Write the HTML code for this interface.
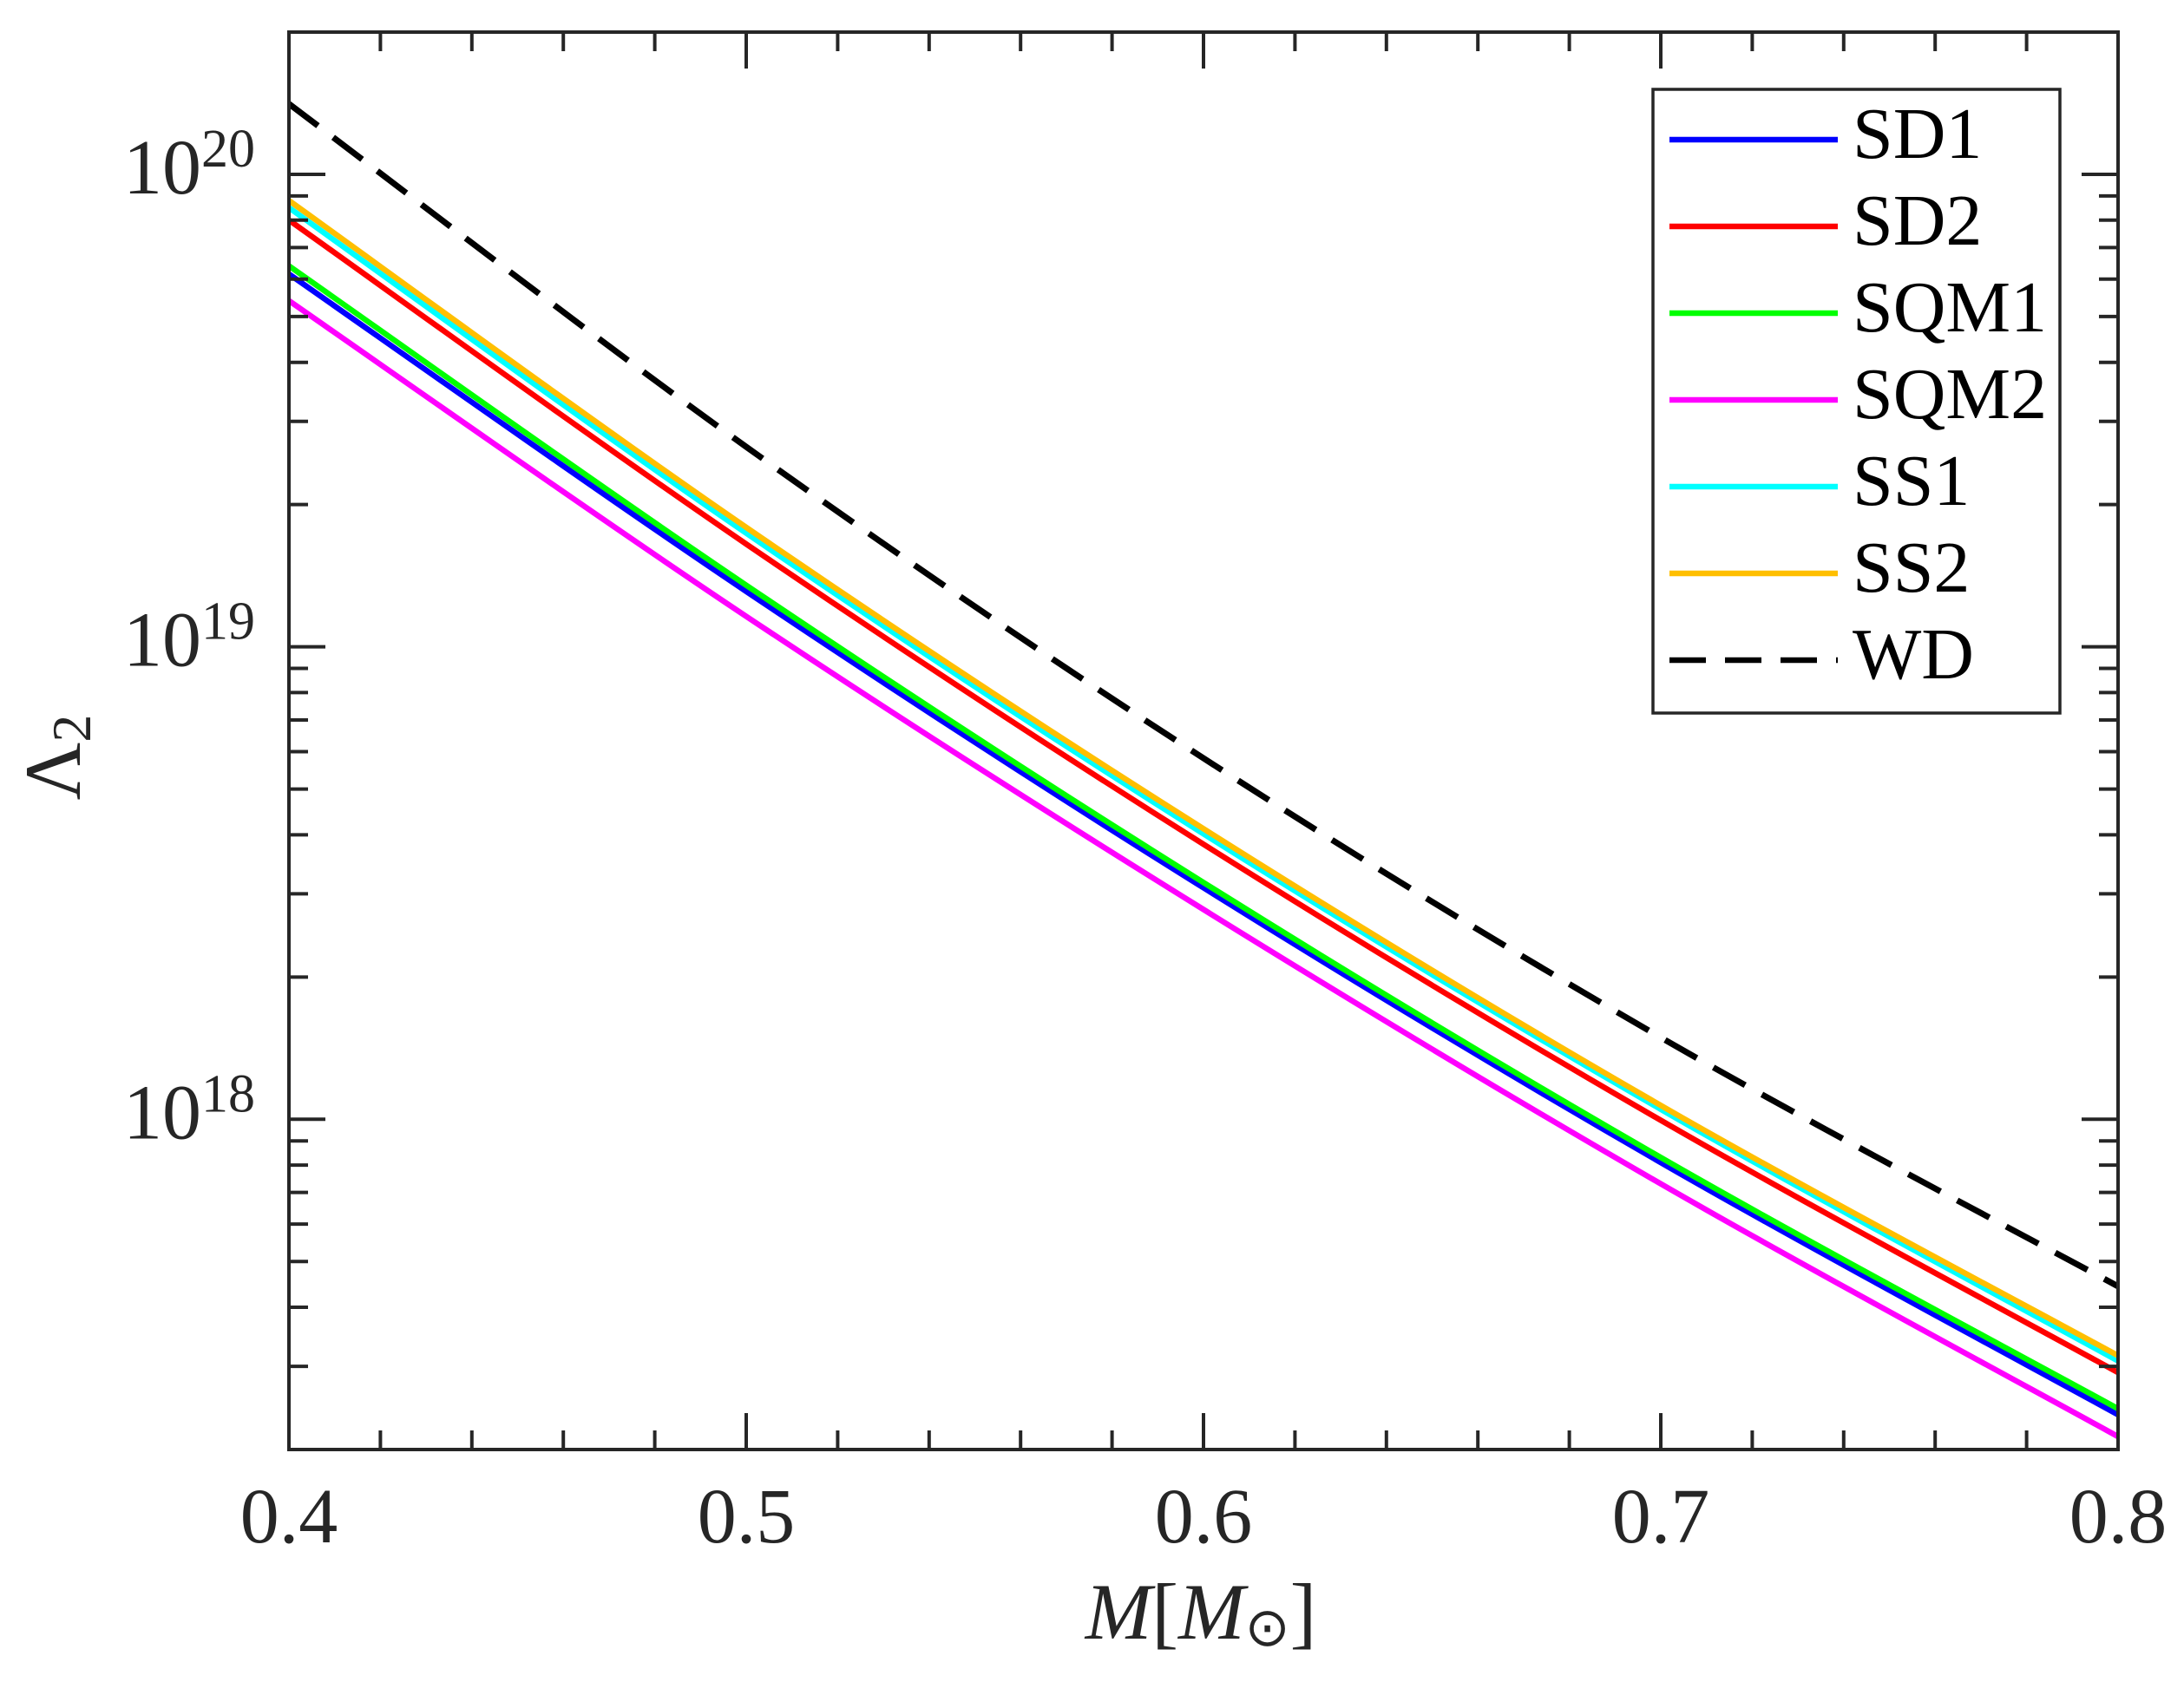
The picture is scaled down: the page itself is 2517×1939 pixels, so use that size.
<!DOCTYPE html>
<html><head><meta charset="utf-8"><style>
html,body{margin:0;padding:0;background:#fff;}
svg{display:block;}
text{font-family:"Liberation Serif",serif;fill:#262626;}
</style></head><body>
<svg id="chart" width="2517" height="1939" viewBox="0 0 2517 1939" xmlns="http://www.w3.org/2000/svg">
<rect x="0" y="0" width="2517" height="1939" fill="#fff"/>
<g id="series"></g>
<g id="axes"></g>
<g id="legend"></g>
<text x="1384" y="1889" font-size="92" font-style="italic" text-anchor="middle">M<tspan font-style="normal">[</tspan>M<tspan font-style="normal" font-size="62" dy="8">⊙</tspan><tspan font-style="normal" dy="-8">]</tspan></text>
<text transform="translate(92,873) rotate(-90)" font-size="92" text-anchor="middle">Λ<tspan font-size="64" dy="12">2</tspan></text>
</svg>
<script>
const masses = [0.4, 0.5, 0.6, 0.7, 0.8];
const sd1 = [6.15e19, 1.31e19, 3.09e18, 8.1e17, 2.37e17];
const sd2 = [8.0e19, 1.65e19, 3.82e18, 9.95e17, 2.91e17];
const sqm1 = [6.4e19, 1.35e19, 3.17e18, 8.3e17, 2.44e17];
const sqm2 = [5.4e19, 1.16e19, 2.78e18, 7.3e17, 2.13e17];
const ss1 = [8.5e19, 1.74e19, 4.02e18, 1.05e18, 3.08e17];
const ss2 = [8.8e19, 1.79e19, 4.12e18, 1.07e18, 3.16e17];
const wd = [1.41e20, 2.65e19, 5.81e18, 1.49e18, 4.43e17];
const xTicks = [0.4, 0.5, 0.6, 0.7, 0.8];
const xTickLabels = ["0.4", "0.5", "0.6", "0.7", "0.8"];
const yTickExps = [18, 19, 20];
const seriesNames = ["SD1", "SD2", "SQM1", "SQM2", "SS1", "SS2", "WD"];

const NS = "http://www.w3.org/2000/svg";
const L = 333, R = 2441, T = 37, B = 1671;
const xMin = 0.4, xMax = 0.8, yMinLog = Math.log10(2e17), yMaxLog = Math.log10(2e20);
function xs(v){ return L + (v - xMin) / (xMax - xMin) * (R - L); }
function ys(v){ return B - (Math.log10(v) - yMinLog) / (yMaxLog - yMinLog) * (B - T); }
function mk(tag, attrs, parent){ const e = document.createElementNS(NS, tag); for (const k in attrs) e.setAttribute(k, attrs[k]); parent.appendChild(e); return e; }

const seriesData = [sd1, sd2, sqm1, sqm2, ss1, ss2, wd];
const colors = ["#0000ff", "#ff0000", "#00ff00", "#ff00ff", "#00ffff", "#ffbf00", "#000000"];
const dataOrder = [6, 3, 0, 2, 1, 4, 5];

function curvePath(vals){
  const pts = masses.map((m, i) => [xs(m), ys(vals[i])]);
  let d = "M" + pts[0][0].toFixed(2) + "," + pts[0][1].toFixed(2);
  for (let i = 0; i < pts.length - 1; i++) {
    const p0 = pts[Math.max(0, i - 1)], p1 = pts[i], p2 = pts[i + 1], p3 = pts[Math.min(pts.length - 1, i + 2)];
    const c1x = p1[0] + (p2[0] - p0[0]) / 6, c1y = p1[1] + (p2[1] - p0[1]) / 6;
    const c2x = p2[0] - (p3[0] - p1[0]) / 6, c2y = p2[1] - (p3[1] - p1[1]) / 6;
    d += " C" + c1x.toFixed(2) + "," + c1y.toFixed(2) + " " + c2x.toFixed(2) + "," + c2y.toFixed(2) + " " + p2[0].toFixed(2) + "," + p2[1].toFixed(2);
  }
  return d;
}

const sg = document.getElementById("series");
mk("clipPath", {id: "clip"}, sg);
mk("rect", {x: L, y: T, width: R - L, height: B - T}, sg.lastChild);
for (const i of dataOrder) {
  const attrs = {d: curvePath(seriesData[i]), fill: "none", stroke: colors[i], "stroke-width": i === 6 ? 7 : 6.5, "clip-path": "url(#clip)"};
  if (i === 6) attrs["stroke-dasharray"] = "42,22";
  const p = mk("path", attrs, sg);
  
  
}

const ag = document.getElementById("axes");
const axc = "#262626";
const box = mk("rect", {x: L, y: T, width: R - L, height: B - T, fill: "none", stroke: axc, "stroke-width": 4}, ag);


for (let k = 0; k <= 20; k++) {
  const v = xMin + k * 0.02;
  const x = xs(v);
  const major = k % 5 === 0;
  const len = major ? 42 : 22;
  const t1 = mk("line", {x1: x, y1: B, x2: x, y2: B - len, stroke: axc, "stroke-width": 4}, ag);
  
  
  const t2 = mk("line", {x1: x, y1: T, x2: x, y2: T + len, stroke: axc, "stroke-width": 4}, ag);
  
  
}
xTicks.forEach((v, i) => {
  const t = mk("text", {x: xs(v), y: 1778, "font-size": 90, "text-anchor": "middle"}, ag);
  t.textContent = xTickLabels[i];
  
  
});
for (let e = 17; e <= 20; e++) {
  for (let m = 1; m <= 9; m++) {
    const v = m * Math.pow(10, e);
    const lg = Math.log10(v);
    if (lg < yMinLog - 1e-9 || lg > yMaxLog + 1e-9) continue;
    const y = ys(v);
    const len = m === 1 ? 42 : 22;
    const t1 = mk("line", {x1: L, y1: y, x2: L + len, y2: y, stroke: axc, "stroke-width": 4}, ag);
    
    
    const t2 = mk("line", {x1: R, y1: y, x2: R - len, y2: y, stroke: axc, "stroke-width": 4}, ag);
    
    
  }
}
yTickExps.forEach(e => {
  const y = ys(Math.pow(10, e));
  const t = mk("text", {x: 294, y: y + 22, "font-size": 90, "text-anchor": "end"}, ag);
  const a = mk("tspan", {}, t); a.textContent = "10";
  const b = mk("tspan", {"font-size": 62, dy: -31}, t); b.textContent = String(e);
  
  
});

const lg = document.getElementById("legend");
const lb = mk("rect", {x: 1905, y: 103, width: 469, height: 719, fill: "#fff", stroke: axc, "stroke-width": 3.5}, lg);


seriesNames.forEach((n, i) => {
  const y = 161 + i * 100;
  const g = mk("g", {}, lg);
  
  
  const la = {x1: 1924, y1: y, x2: 2118, y2: y, stroke: colors[i], "stroke-width": 6.5};
  if (i === 6) la["stroke-dasharray"] = "42,22";
  const ln = mk("line", la, g);
  
  
  const t = mk("text", {x: 2135, y: y + 21, "font-size": 84, fill: "#000"}, g);
  t.style.fill = "#000";
  t.textContent = n;
  
  
});
</script>
</body></html>
